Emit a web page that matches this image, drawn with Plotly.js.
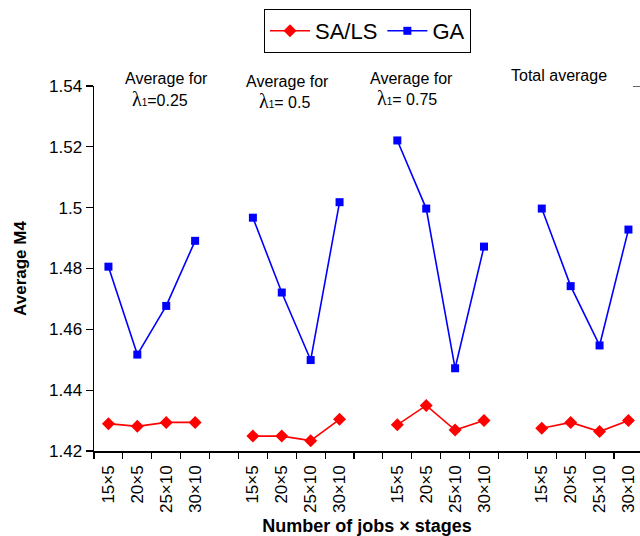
<!DOCTYPE html>
<html>
<head>
<meta charset="utf-8">
<script src="https://cdn.plot.ly/plotly-3.0.1.min.js"></script>
<style>html,body{margin:0;padding:0;background:#fff;overflow:hidden}</style>
</head>
<body>
<div id="chart" style="width:640px;height:536px"></div>
<script>
// ---- data ----
const categories = ["15×5", "20×5", "25×10", "30×10"];
const groupHeads = ["Average for", "Average for", "Average for", "Total average"];
const groupLambdas = ["0.25", " 0.5", " 0.75", null];

const saLs025   = [1.4290, 1.4281, 1.4294, 1.4294];
const saLs05    = [1.4249, 1.4249, 1.4234, 1.4304];
const saLs075   = [1.4286, 1.4350, 1.4269, 1.4300];
const saLsTotal = [1.4275, 1.4294, 1.4264, 1.4300];

const ga025   = [1.4806, 1.4517, 1.4677, 1.4891];
const ga05    = [1.4967, 1.4721, 1.4499, 1.5018];
const ga075   = [1.5221, 1.4997, 1.4472, 1.4872];
const gaTotal = [1.4997, 1.4742, 1.4547, 1.4928];

const yTickVals = [1.42, 1.44, 1.46, 1.48, 1.50, 1.52, 1.54];
const yTickText = ["1.42", "1.44", "1.46", "1.48", "1.5", "1.52", "1.54"];

// ---- build slot positions: 4 groups of 4 categories, one empty slot between groups ----
function buildSeries(groups) {
  const xs = [], ys = [];
  groups.forEach((vals, g) => {
    vals.forEach((v, i) => { xs.push(g * (categories.length + 1) + i); ys.push(v); });
    if (g < groups.length - 1) { xs.push(g * (categories.length + 1) + categories.length); ys.push(null); }
  });
  return {xs, ys};
}
const sa = buildSeries([saLs025, saLs05, saLs075, saLsTotal]);
const ga = buildSeries([ga025, ga05, ga075, gaTotal]);

const tickVals = [], tickText = [];
for (let g = 0; g < 4; g++) categories.forEach((c, i) => { tickVals.push(g * (categories.length + 1) + i); tickText.push(c); });

const FONT = "Arial, 'Liberation Sans', sans-serif";

const traces = [
  {x: sa.xs, y: sa.ys, name: "SA/LS", type: "scatter", mode: "lines+markers", connectgaps: false,
   line: {color: "#ff0000", width: 1.6}, marker: {symbol: "diamond", size: 10, color: "#ff0000"}},
  {x: ga.xs, y: ga.ys, name: "GA", type: "scatter", mode: "lines+markers", connectgaps: false,
   line: {color: "#0000ff", width: 1.6}, marker: {symbol: "square", size: 8, color: "#0000ff"}}
];

// plot area pixel geometry helpers for annotation placement
const L = 94, R = 640, T = 86, B = 451;
const px = X => (X - L) / (R - L);
const py = Y => (B - Y) / (B - T);

const lam = v => "<span style=\"font-family:'Liberation Serif',serif;font-size:20px\">λ</span><span style=\"font-size:10px\">1</span>=" + v;

const headPos = [[123, 79], [244, 81.5], [368, 78.5], [509, 75.5]];
const lamPos = [[130, 98.5], [257, 100.5], [375, 98], null];

const annotations = [];
groupHeads.forEach((h, g) => {
  annotations.push({text: h, xref: "paper", yref: "paper", x: px(headPos[g][0]), y: py(headPos[g][1]),
    xanchor: "left", yanchor: "middle", showarrow: false, font: {family: FONT, size: 16, color: "#000"}});
  if (groupLambdas[g] !== null) {
    annotations.push({text: lam(groupLambdas[g]), xref: "paper", yref: "paper", x: px(lamPos[g][0]), y: py(lamPos[g][1]),
      xanchor: "left", yanchor: "middle", showarrow: false, font: {family: FONT, size: 16, color: "#000"}});
  }
});

const layout = {
  width: 640, height: 536,
  margin: {l: L, r: 0, t: T, b: 536 - B},
  paper_bgcolor: "#fff", plot_bgcolor: "#fff",
  font: {family: FONT, color: "#000"},
  showlegend: true,
  legend: {orientation: "h", x: px(264), xanchor: "left", y: py(9), yanchor: "top",
           bordercolor: "#000", borderwidth: 1, font: {family: FONT, size: 22, color: "#000"},
           bgcolor: "#fff", itemwidth: 40, entrywidth: 0},
  xaxis: {
    range: [-0.5, 18.4], showgrid: false, zeroline: false,
    showline: true, linecolor: "#000", linewidth: 1.5,
    tickmode: "array", tickvals: tickVals, ticktext: tickText, ticks: "",
    tickangle: -90, tickfont: {family: FONT, size: 17, color: "#000"}, ticklabelstandoff: 6,
    minor: {ticks: "outside", ticklen: 6, tickwidth: 1.2, tickcolor: "#000", tick0: -0.5, dtick: 1, showgrid: false},
    title: {text: "<b>Number of jobs × stages</b>", font: {family: FONT, size: 18, color: "#000"}, standoff: 8}
  },
  yaxis: {
    range: [1.42, 1.54], showgrid: false, zeroline: false,
    showline: true, linecolor: "#000", linewidth: 1.5,
    tickmode: "array", tickvals: yTickVals, ticktext: yTickText,
    ticks: "outside", ticklen: 7, tickwidth: 1.2, tickcolor: "#000",
    tickfont: {family: FONT, size: 17, color: "#000"},
    title: {text: "<b>Average M4</b>", font: {family: FONT, size: 17, color: "#000"}, standoff: 18}
  },
  annotations: annotations,
  shapes: [{type: "line", xref: "paper", yref: "y", x0: px(633), x1: 1, y0: 1.54, y1: 1.54,
            line: {color: "#000", width: 1.2}}]
};

Plotly.newPlot("chart", traces, layout, {displayModeBar: false, staticPlot: true});
</script>
</body>
</html>
